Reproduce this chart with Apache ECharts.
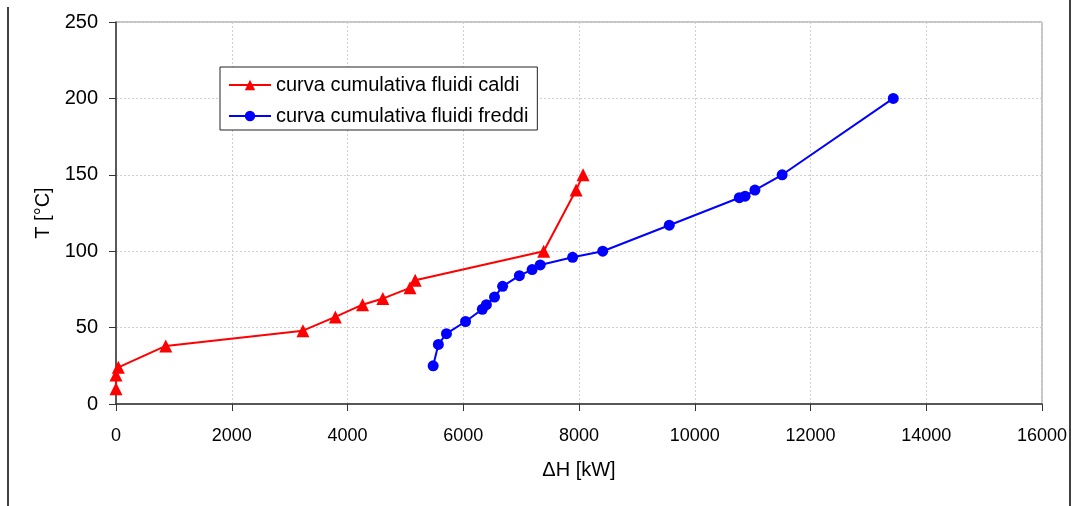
<!DOCTYPE html>
<html>
<head>
<meta charset="utf-8">
<script src="https://cdn.jsdelivr.net/npm/echarts@6/dist/echarts.min.js"></script>
<style>
  html, body { margin: 0; padding: 0; background: #fff; }
  #chart { width: 1073px; height: 506px; }
</style>
</head>
<body>
<div id="chart"></div>
<script>
// curva cumulativa fluidi caldi: [dH kW, T °C]
var caldi = [
  [0, 10], [0, 19], [40, 24], [860, 38], [3230, 48], [3790, 57], [4260, 65],
  [4610, 69], [5080, 76], [5170, 81], [7390, 100], [7950, 140], [8070, 150]
];
// curva cumulativa fluidi freddi
var freddi = [
  [5480, 25], [5570, 39], [5710, 46], [6040, 54], [6330, 62], [6400, 65],
  [6540, 70], [6680, 77], [6970, 84], [7190, 88], [7330, 91], [7890, 96],
  [8410, 100], [9560, 117], [10770, 135], [10870, 136], [11040, 140],
  [11510, 150], [13430, 200]
];
var nomeCaldi = "curva cumulativa fluidi caldi";
var nomeFreddi = "curva cumulativa fluidi freddi";

var font = "Liberation Sans, Arial, sans-serif";

var myChart = echarts.init(document.getElementById("chart"));

myChart.setOption({
  animation: false,
  backgroundColor: "#fff",
  textStyle: { fontFamily: font },
  grid: {
    left: 116, right: 31, top: 22, bottom: 102,
    show: true, borderColor: "#8c8c8c", borderWidth: 1
  },
  legend: {
    orient: "vertical",
    left: 220, top: 67,
    padding: [8, 9, 4, 8],
    itemWidth: 42, itemHeight: 13, itemGap: 11,
    backgroundColor: "#fff",
    borderColor: "#222", borderWidth: 1, borderRadius: 0,
    textStyle: { fontSize: 20, color: "#000", fontFamily: font, lineHeight: 20 },
    data: [nomeCaldi, nomeFreddi]
  },
  xAxis: {
    type: "value",
    min: 0, max: 16000, interval: 2000,
    name: "\u0394H [kW]",
    nameLocation: "middle", nameGap: 56,
    nameTextStyle: { fontSize: 20, color: "#000", fontFamily: font },
    axisLine: { show: true, onZero: false, lineStyle: { color: "#333", width: 1.5 } },
    axisTick: { show: true, length: 7, lineStyle: { color: "#333" } },
    axisLabel: {
      fontSize: 18, color: "#000", margin: 23, fontFamily: font,
      formatter: function(v) { return String(v); }
    },
    splitLine: { show: true, lineStyle: { color: "#cfcfcf", type: [2, 2], width: 1 } }
  },
  yAxis: {
    type: "value",
    min: 0, max: 250, interval: 50,
    name: "T [\u00b0C]",
    nameLocation: "middle", nameGap: 61, nameRotate: 90,
    nameTextStyle: { fontSize: 20, color: "#000", fontFamily: font },
    axisLine: { show: true, onZero: false, lineStyle: { color: "#333", width: 1.5 } },
    axisTick: { show: true, length: 7, lineStyle: { color: "#333" } },
    axisLabel: { fontSize: 20, color: "#000", margin: 18, fontFamily: font },
    splitLine: { show: true, lineStyle: { color: "#cfcfcf", type: [2, 2], width: 1 } }
  },
  graphic: [
    { type: "line", shape: { x1: 8, y1: 7, x2: 8, y2: 506 }, style: { stroke: "#000", lineWidth: 1.5 } },
    { type: "line", shape: { x1: 1070, y1: 0, x2: 1070, y2: 506 }, style: { stroke: "#000", lineWidth: 1.5 } }
  ],
  series: [
    {
      name: nomeCaldi,
      type: "line",
      data: caldi,
      symbol: "triangle", symbolSize: 13,
      lineStyle: { color: "#ff0000", width: 2 },
      itemStyle: { color: "#ff0000" },
      z: 3
    },
    {
      name: nomeFreddi,
      type: "line",
      data: freddi,
      symbol: "circle", symbolSize: 11,
      lineStyle: { color: "#0000ff", width: 2 },
      itemStyle: { color: "#0000ff" },
      z: 2
    }
  ]
});
</script>
</body>
</html>
